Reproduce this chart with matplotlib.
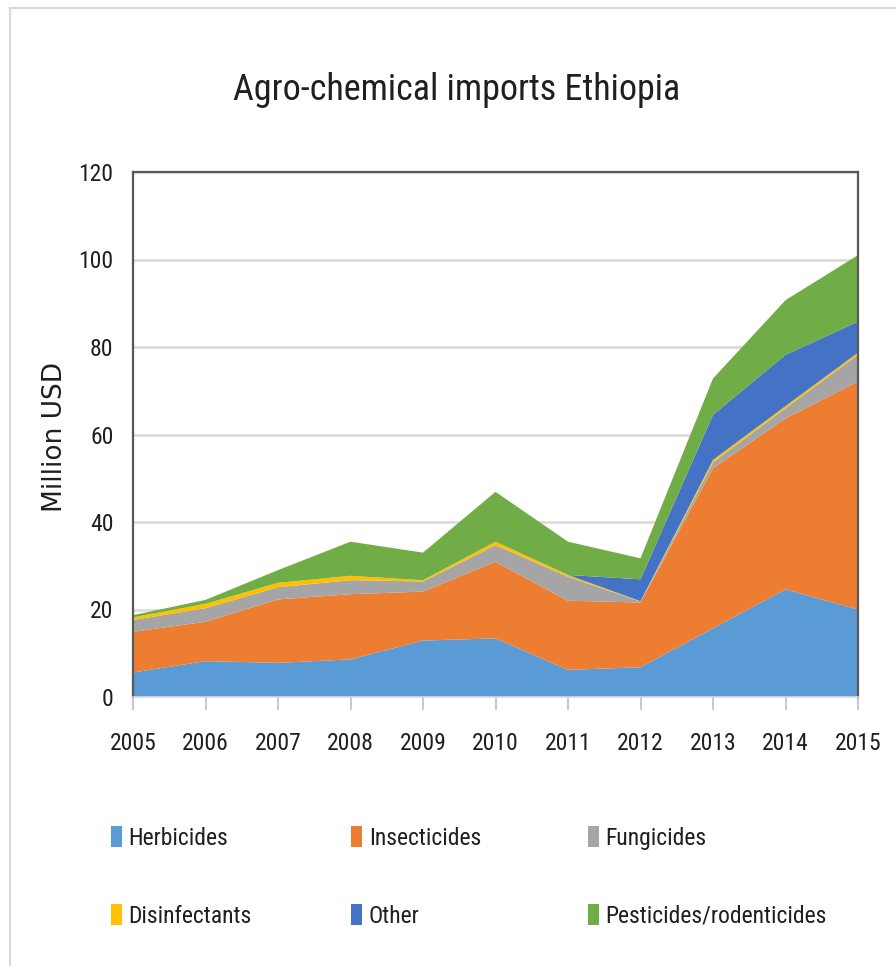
import matplotlib
matplotlib.use("Agg")
import matplotlib.pyplot as plt
from matplotlib import font_manager
from matplotlib.lines import Line2D
from matplotlib.patches import Patch

# imports by category, million USD
years = [2005, 2006, 2007, 2008, 2009, 2010, 2011, 2012, 2013, 2014, 2015]
herbicides = [5.6, 8.2, 7.8, 8.6, 12.9, 13.4, 6.2, 6.8, 15.7, 24.6, 20.0]
insecticides = [9.3, 9.0, 14.5, 14.9, 11.2, 17.5, 15.8, 14.8, 36.6, 39.1, 52.1]
fungicides = [2.7, 3.1, 2.8, 3.2, 2.3, 3.8, 5.5, 0.2, 1.3, 2.3, 6.1]
disinfectants = [0.6, 1.0, 1.0, 1.0, 0.3, 0.8, 0.4, 0.1, 0.6, 0.5, 0.5]
other = [0.0, 0.0, 0.0, 0.0, 0.0, 0.0, 0.0, 5.0, 10.3, 11.7, 7.1]
pesticides = [0.5, 0.9, 2.9, 7.8, 6.3, 11.4, 7.6, 4.8, 8.3, 12.5, 15.2]

labels = ["Herbicides", "Insecticides", "Fungicides",
          "Disinfectants", "Other", "Pesticides/rodenticides"]
colors = ["#5B9BD5", "#ED7D31", "#A5A5A5", "#FFC000", "#4472C4", "#70AD47"]
y_ticks = [0, 20, 40, 60, 80, 100, 120]

# narrow face for the chart text if one is installed
installed = {f.name for f in font_manager.fontManager.ttflist}
narrow = next((n for n in ["Liberation Sans Narrow", "DejaVu Sans Condensed",
                           "Roboto Condensed"] if n in installed), "Liberation Sans")
plt.rcParams["font.family"] = [narrow, "DejaVu Sans"]

fig = plt.figure(figsize=(8.96, 9.66), dpi=100)

# light frame round the chart area
fig.add_artist(Line2D([10 / 896, 10 / 896], [0, 1 - 8 / 966], color="#D9D9D9", lw=1.5))
fig.add_artist(Line2D([10 / 896, 1], [1 - 8 / 966, 1 - 8 / 966], color="#D9D9D9", lw=1.5))

ax = fig.add_axes([133 / 896, 1 - 697 / 966, 725 / 896, 525 / 966])
series = [herbicides, insecticides, fungicides, disinfectants, other, pesticides]
ax.stackplot(years, series, colors=colors, linewidth=0, zorder=2)

ax.set_xlim(years[0], years[-1])
ax.set_ylim(0, 120)
ax.set_xticks(years)
ax.set_yticks(y_ticks)
ax.yaxis.grid(True, color="#D9D9D9", lw=1.8, zorder=0)
ax.set_axisbelow(True)

for side in ["left", "top", "right"]:
    ax.spines[side].set_color("#595959")
    ax.spines[side].set_linewidth(1.6)
ax.spines["bottom"].set_color("#D9D9D9")
ax.spines["bottom"].set_linewidth(1.2)

ax.tick_params(axis="x", direction="out", length=9, width=1.2, color="#BFBFBF",
               pad=16, labelsize=17, labelcolor="#1F1F1F")
ax.tick_params(axis="y", length=0, pad=14, labelsize=17, labelcolor="#1F1F1F")

fig.text(457 / 896, 1 - 100 / 966, "Agro-chemical imports Ethiopia",
         ha="center", va="baseline", fontsize=26, color="#1F1F1F")
fig.text(55 / 896, 1 - 437 / 966, "Million USD", rotation=90, ha="center",
         va="center", fontsize=19, color="#1F1F1F", family="DejaVu Sans")

# legend, three fixed columns of two entries
col_x = [111 / 896, 351 / 896, 588 / 896]
for c in range(3):
    handles = [Patch(facecolor=colors[c], edgecolor="none", label=labels[c]),
               Patch(facecolor=colors[c + 3], edgecolor="none", label=labels[c + 3])]
    fig.legend(handles=handles, loc="upper left", bbox_to_anchor=(col_x[c], 1 - 826 / 966),
               frameon=False, fontsize=17, handlelength=0.45, handleheight=1.0,
               handletextpad=0.3, labelspacing=2.3, borderpad=0, borderaxespad=0,
               labelcolor="#1F1F1F")

fig.savefig("out.png", dpi=100)
